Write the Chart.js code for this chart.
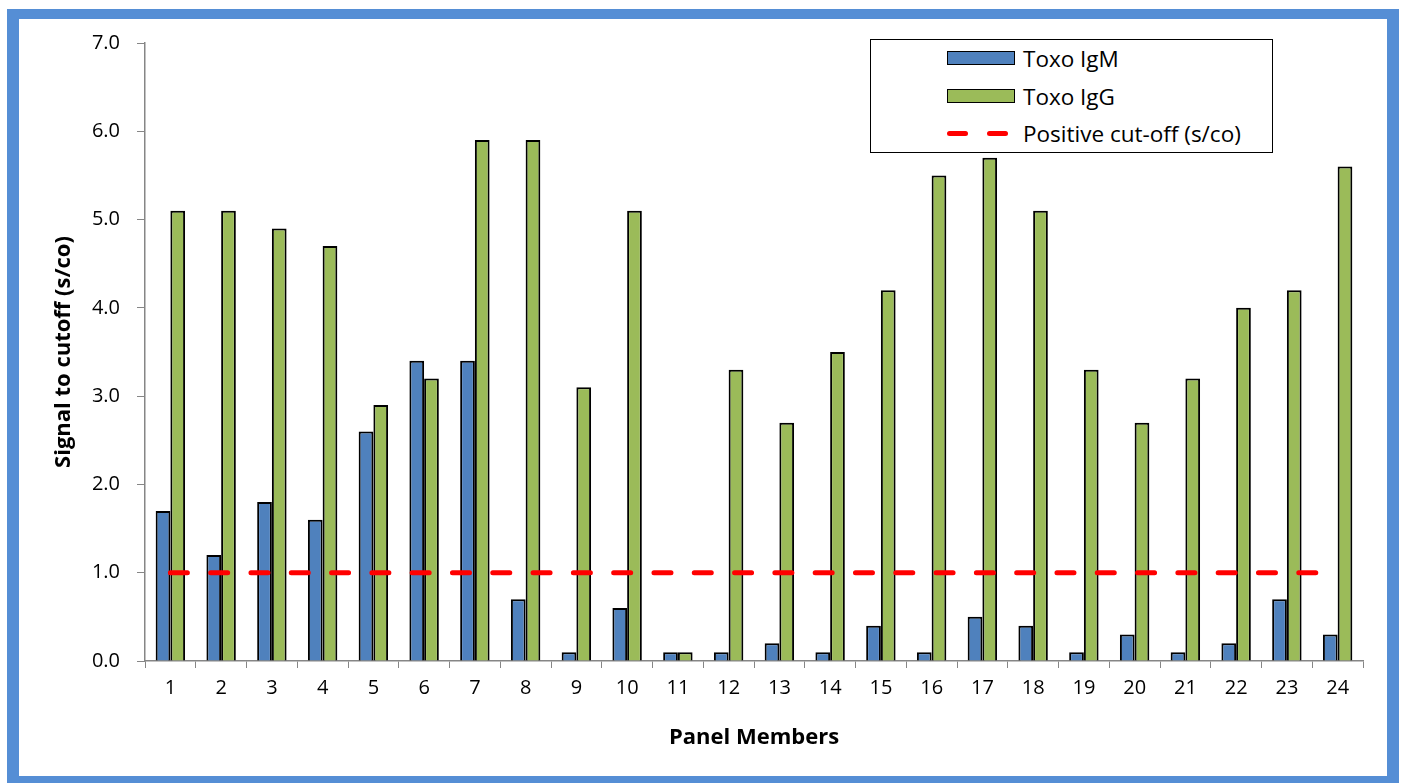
<!DOCTYPE html>
<html>
<head>
<meta charset="utf-8">
<script src="https://cdn.jsdelivr.net/npm/chart.js@4/dist/chart.umd.min.js"></script>
<style>
  body { margin: 0; background: #fff; overflow: hidden; }
  #wrap { position: relative; width: 1402px; height: 783px; overflow: hidden; }
  #frame {
    position: absolute; left: 7px; top: 9px; width: 1368px; height: 757px;
    border-style: solid; border-color: #558ED5; border-width: 10px 12px 12px 12px;
    pointer-events: none;
  }
  #legend {
    position: absolute; left: 870px; top: 39px; width: 401px; height: 112px;
    border: 1px solid #000; background: #fff;
    font-family: "Open Sans", "Liberation Sans", sans-serif; font-size: 22.5px; color: #000;
  }
  .item { position: absolute; left: 76px; height: 26px; display: flex; align-items: center; white-space: nowrap; }
  .swatch { width: 66px; height: 12px; border: 1.5px solid #000; margin-right: 8px; }
  .dash { width: 68px; height: 5px; margin-right: 8px; position: relative; }
  .dash span { position: absolute; top: 0; width: 21px; height: 5px; border-radius: 3px; background: #f00; }
</style>
</head>
<body>
<div id="wrap">
  <canvas id="chart" width="1402" height="783"></canvas>
  <div id="frame"></div>
  <div id="legend">
    <div class="item" style="top:5px"><div class="swatch" style="background:#4F81BD"></div>Toxo IgM</div>
    <div class="item" style="top:43px"><div class="swatch" style="background:#9BBB59"></div>Toxo IgG</div>
    <div class="item" style="top:80px"><div class="dash"><span style="left:0"></span><span style="left:40px"></span></div>Positive cut-off (s/co)</div>
  </div>
</div>
<script>
const members = ['1','2','3','4','5','6','7','8','9','10','11','12','13','14','15','16','17','18','19','20','21','22','23','24'];
const toxoIgM = [1.7, 1.2, 1.8, 1.6, 2.6, 3.4, 3.4, 0.7, 0.1, 0.6, 0.1, 0.1, 0.2, 0.1, 0.4, 0.1, 0.5, 0.4, 0.1, 0.3, 0.1, 0.2, 0.7, 0.3];
const toxoIgG = [5.1, 5.1, 4.9, 4.7, 2.9, 3.2, 5.9, 5.9, 3.1, 5.1, 0.1, 3.3, 2.7, 3.5, 4.2, 5.5, 5.7, 5.1, 3.3, 2.7, 3.2, 4.0, 4.2, 5.6];
const cutoff = members.map(() => 1.0);
const yTicks = [0, 1, 2, 3, 4, 5, 6, 7];

const fontFamily = '"Open Sans", "Liberation Sans", sans-serif';
const axisColor = '#868686';

new Chart(document.getElementById('chart').getContext('2d'), {
    type: 'bar',
    data: {
        labels: members,
        datasets: [{
            type: 'line',
            label: 'Positive cut-off (s/co)',
            data: cutoff,
            borderColor: '#FF0000',
            borderWidth: 5,
            borderDash: [17, 23.3],
            borderCapStyle: 'round',
            pointRadius: 0,
            fill: false,
            order: 0
        }, {
            label: 'Toxo IgM',
            data: toxoIgM,
            backgroundColor: '#4F81BD',
            borderColor: '#000',
            borderWidth: 2,
            order: 1
        }, {
            label: 'Toxo IgG',
            data: toxoIgG,
            backgroundColor: '#9BBB59',
            borderColor: '#000',
            borderWidth: 2,
            order: 1
        }]
    },
    options: {
        responsive: false,
        animation: false,
        layout: { padding: { left: 20, top: 43, right: 39, bottom: 27 } },
        plugins: {
            legend: { display: false },
            tooltip: { enabled: false }
        },
        datasets: {
            bar: { categoryPercentage: 0.58, barPercentage: 1.0 }
        },
        scales: {
            x: {
                grid: { drawOnChartArea: false, tickLength: 7, color: axisColor, offset: true },
                border: { color: axisColor, width: 1.5 },
                ticks: {
                    color: '#000', maxRotation: 0, autoSkip: false, padding: 8,
                    font: { family: fontFamily, size: 20 }
                },
                title: {
                    display: true, text: 'Panel Members', color: '#000',
                    font: { family: fontFamily, size: 22, weight: 'bold' },
                    padding: { top: 0, bottom: 5 }
                },
                afterFit: s => { s.height = 95; }
            },
            y: {
                min: 0,
                max: 7,
                afterBuildTicks: s => { s.ticks = yTicks.map(v => ({ value: v })); },
                grid: { drawOnChartArea: false, tickLength: 8, color: axisColor },
                border: { color: axisColor, width: 1.5 },
                ticks: {
                    color: '#000', padding: 17,
                    font: { family: fontFamily, size: 20 },
                    callback: v => Number(v).toFixed(1)
                },
                title: {
                    display: true, text: 'Signal to cutoff (s/co)', color: '#000',
                    font: { family: fontFamily, size: 22, weight: 'bold' },
                    padding: { top: 31, bottom: 0 }
                },
                afterFit: s => { s.width = 125; }
            }
        }
    }
});
</script>
</body>
</html>
